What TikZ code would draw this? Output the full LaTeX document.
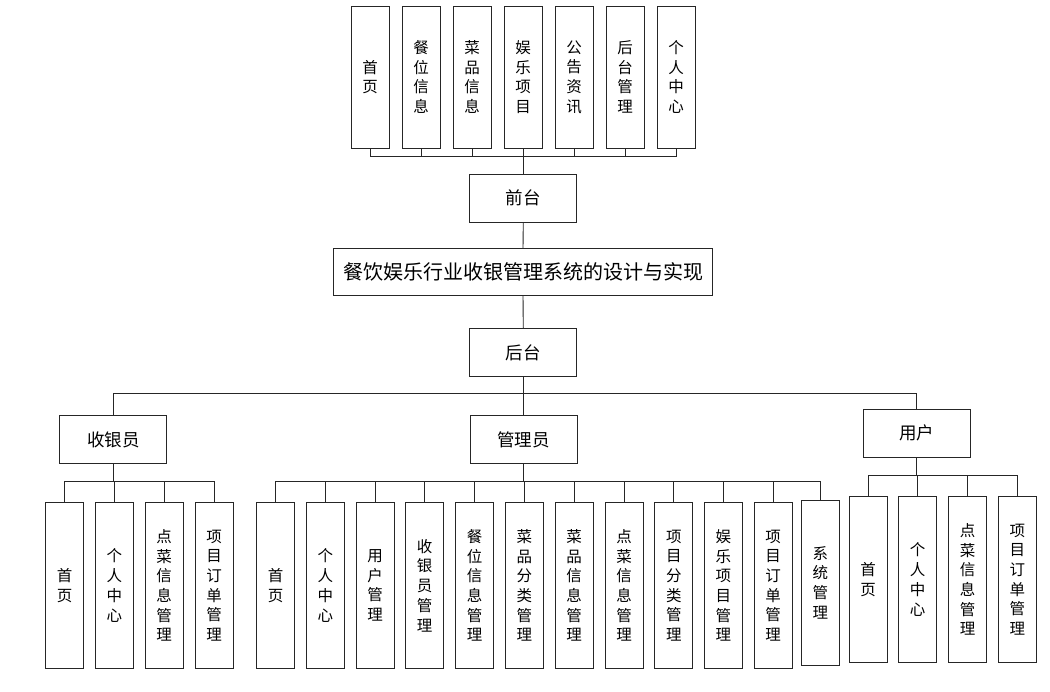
\documentclass[tikz,border=0pt]{standalone}
\usepackage{fontspec}
\newfontfamily\cjk{Noto Sans CJK SC}
\begin{document}
\begin{tikzpicture}[x=1pt,y=-1pt,
  box/.style={draw=black!85,line width=0.9pt,inner sep=0pt,align=center,text=black},
  leaf/.style={box,minimum width=38pt,minimum height=165.6pt,font=\cjk\fontsize{15.5}{19.7}\selectfont},
  topleaf/.style={box,minimum width=38pt,minimum height=142pt,font=\cjk\fontsize{15.5}{19.7}\selectfont},
  mid/.style={box,minimum width=107pt,minimum height=47.5pt,font=\cjk\fontsize{17.5}{20}\selectfont},
  conn/.style={draw=black!85,line width=0.9pt}]
\useasboundingbox (0,0) rectangle (1050,692);
% top row
\node[topleaf] (t1) at (370,77) {首\\页};
\node[topleaf] (t2) at (421,77) {餐\\位\\信\\息};
\node[topleaf] (t3) at (472,77) {菜\\品\\信\\息};
\node[topleaf] (t4) at (523,77) {娱\\乐\\项\\目};
\node[topleaf] (t5) at (574,77) {公\\告\\资\\讯};
\node[topleaf] (t6) at (625,77) {后\\台\\管\\理};
\node[topleaf] (t7) at (676,77) {个\\人\\中\\心};
\node[mid,minimum height=48pt] (qt) at (523.3,198) {前台};
\node[box,minimum width=379.4pt,minimum height=46.7pt,font=\cjk\fontsize{20}{22}\selectfont] (main) at (523,271.7) {餐饮娱乐行业收银管理系统的设计与实现};
\node[mid] (ht) at (523.3,352.7) {后台};
\node[mid] (syy) at (113.3,439.7) {收银员};
\node[mid] (gly) at (523.5,439.5) {管理员};
\node[mid,minimum height=48pt] (yh) at (916.7,433.3) {用户};
% cashier leaves
\node[leaf] (s1) at (64.7,585.5) {首\\页};
\node[leaf] (s2) at (114.3,585.5) {个\\人\\中\\心};
\node[leaf] (s3) at (164.2,585.5) {点\\菜\\信\\息\\管\\理};
\node[leaf] (s4) at (214.2,585.5) {项\\目\\订\\单\\管\\理};
% admin leaves
\node[leaf] (g1) at (275.5,585.5) {首\\页};
\node[leaf] (g2) at (325.3,585.5) {个\\人\\中\\心};
\node[leaf] (g3) at (375.2,585.5) {用\\户\\管\\理};
\node[leaf] (g4) at (424.7,585.5) {收\\银\\员\\管\\理};
\node[leaf] (g5) at (474.7,585.5) {餐\\位\\信\\息\\管\\理};
\node[leaf] (g6) at (524.3,585.5) {菜\\品\\分\\类\\管\\理};
\node[leaf] (g7) at (574,585.5) {菜\\品\\信\\息\\管\\理};
\node[leaf] (g8) at (624,585.5) {点\\菜\\信\\息\\管\\理};
\node[leaf] (g9) at (673.8,585.5) {项\\目\\分\\类\\管\\理};
\node[leaf] (g10) at (723.3,585.5) {娱\\乐\\项\\目\\管\\理};
\node[leaf] (g11) at (773.2,585.5) {项\\目\\订\\单\\管\\理};
\node[leaf,minimum height=165.3pt] (g12) at (820.3,582.7) {系\\统\\管\\理};
% user leaves
\node[leaf] (u1) at (868.2,579.5) {首\\页};
\node[leaf] (u2) at (917.7,579.5) {个\\人\\中\\心};
\node[leaf] (u3) at (967.5,579.5) {点\\菜\\信\\息\\管\\理};
\node[leaf] (u4) at (1017.3,579.5) {项\\目\\订\\单\\管\\理};
% connectors
\foreach \n in {t1,t2,t3,t4,t5,t6,t7}
  \draw[conn] (qt.north) -- ++(0,-17) -| (\n.south);
\draw[conn] (qt.south) -- (main.north);
\draw[conn] (main.south) -- (ht.north);
\foreach \n in {syy,gly,yh}
  \draw[conn] (ht.south) -- ++(0,16.5) -| (\n.north);
\foreach \n in {s1,s2,s3,s4}
  \draw[conn] (syy.south) -- ++(0,17.5) -| (\n.north);
\foreach \n in {g1,g2,g3,g4,g5,g6,g7,g8,g9,g10,g11,g12}
  \draw[conn] (gly.south) -- ++(0,18) -| (\n.north);
\foreach \n in {u1,u2,u3,u4}
  \draw[conn] (yh.south) -- ++(0,17.7) -| (\n.north);
\end{tikzpicture}
\end{document}
